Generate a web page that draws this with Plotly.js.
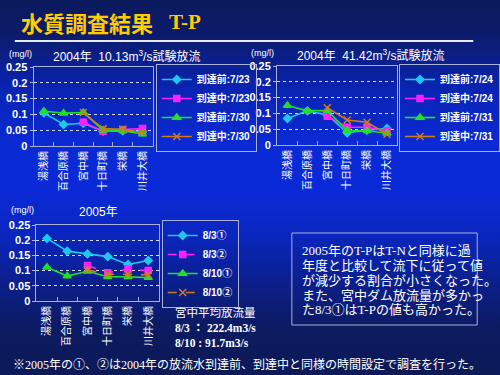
<!DOCTYPE html>
<html><head><meta charset="utf-8">
<script src="https://cdn.plot.ly/plotly-3.0.1.min.js"></script>
<style>
html,body{margin:0;padding:0;}
body{width:500px;height:375px;overflow:hidden;
background:linear-gradient(to bottom,#0b1a5c 0%,#0b1b6a 9%,#0a24b4 24%,#0a2ad4 38%,#0a2ad8 50%,#0a26c0 62%,#0b1f8a 76%,#0c1a60 88%,#0c1a58 100%);}
#chart{width:500px;height:375px;}
</style></head>
<body><div id="chart"></div>
<script>
const categories = ['湯浅橋','百合原橋','宮中橋','十日町橋','栄橋','川井大橋'];
const yTicks = [0, 0.05, 0.1, 0.15, 0.2, 0.25];
const yTickLabels = ['0','0.05','0.1','0.15','0.2','0.25'];

// 2004 10.13m3/s
const names1 = ['到達前:7/23','到達中:7/23','到達前:7/30','到達中:7/30'];
const p1_mae723 = [0.105,0.068,0.072,0.047,0.048,0.045];
const p1_naka723 = [null,null,0.075,0.047,0.052,0.055];
const p1_mae730 = [0.110,0.104,0.106,0.050,0.048,0.038];
const p1_naka730 = [null,null,0.106,0.055,0.053,0.042];

// 2004 41.42m3/s
const names2 = ['到達前:7/24','到達中:7/24','到達前:7/31','到達中:7/31'];
const p2_mae724 = [0.084,0.108,0.095,0.039,0.047,0.052];
const p2_naka724 = [null,null,0.091,0.056,0.056,0.045];
const p2_mae731 = [0.125,0.108,0.109,0.046,0.045,0.037];
const p2_naka731 = [null,null,0.118,0.079,0.072,0.034];

// 2005
const names3 = ['8/3①','8/3②','8/10①','8/10②'];
const p3_a1 = [0.206,0.164,0.155,0.146,0.120,0.133];
const p3_a2 = [null,null,0.117,0.093,0.105,0.100];
const p3_b1 = [0.111,0.082,0.098,0.080,0.080,0.077];
const p3_b2 = [null,null,0.102,0.088,0.088,0.086];

const cCyan='#1ec8f0', cPink='#ff20ff', cGreen='#22e022', cOrange='#d07a1e';
const styles = [
  {color:cCyan, symbol:'diamond', size:6},
  {color:cPink, symbol:'square', size:6},
  {color:cGreen, symbol:'triangle-up', size:7},
  {color:cOrange, symbol:'x-thin-open', size:7}
];

function mk(names, series, xa, ya, leg, dashes){
  return series.map((s,i)=>({
    type:'scatter', mode:'lines+markers', x:categories, y:s, name:names[i],
    xaxis:xa, yaxis:ya, legend:leg,
    line:{color:styles[i].color, width:1.6, dash:dashes[i]},
    marker:{color:styles[i].color, symbol:styles[i].symbol, size:styles[i].size,
            line:{color:styles[i].color, width:1.5}},
    connectgaps:false, hoverinfo:'skip'
  }));
}

const data = [].concat(
  mk(names1,[p1_mae723,p1_naka723,p1_mae730,p1_naka730],'x','y','legend',['solid','solid','solid','solid']),
  mk(names2,[p2_mae724,p2_naka724,p2_mae731,p2_naka731],'x2','y2','legend2',['solid','solid','solid','solid']),
  mk(names3,[p3_a1,p3_a2,p3_b1,p3_b2],'x3','y3','legend3',['solid','dash','solid','dash'])
);

const fontJP = '"Noto Sans CJK JP", "DejaVu Sans", sans-serif';
const fontMix = '"Liberation Sans", "Noto Sans CJK JP", sans-serif';
const fontSerif = '"Liberation Serif", "Noto Sans CJK JP", serif';
const lineCol = '#a8b0d8';

function xax(dom, anchor){
  return {domain:dom, anchor:anchor, type:'category', tickangle:-90,
    tickfont:{color:'#ffffff', size:10, family:fontJP},
    showline:true, linecolor:lineCol, linewidth:1, mirror:true,
    ticks:'inside', ticklen:4, tickcolor:lineCol, tickson:'boundaries',
    showgrid:false, zeroline:false, fixedrange:true};
}
function yax(dom, anchor){
  return {domain:dom, anchor:anchor, range:[0,0.25], tickvals:yTicks, ticktext:yTickLabels,
    tickfont:{color:'#ffffff', size:11, family:'"Liberation Sans", Arial, sans-serif', weight:'bold'},
    showline:true, linecolor:lineCol, linewidth:1, mirror:true,
    ticks:'outside', ticklen:3, tickcolor:lineCol,
    showgrid:true, gridcolor:'#d8dcf0', griddash:'dot', gridwidth:1,
    zeroline:false, fixedrange:true};
}
function legendCfg(x, y){
  return {x:x, y:y, xanchor:'left', yanchor:'top',
    bgcolor:'rgba(0,0,0,0)', bordercolor:lineCol, borderwidth:1,
    font:{color:'#ffffff', size:10, family:fontMix, weight:'bold'}, itemwidth:30, tracegroupgap:0};
}

function ann(text, xpx, ypx, size, opts){
  return Object.assign({text:text, x:xpx/500, y:1-ypx/375, xref:'paper', yref:'paper',
    showarrow:false, xanchor:'left', yanchor:'middle',
    font:{color:'#ffffff', size:size, family:fontJP}}, opts||{});
}
const serifB = (s)=>({color:'#ffffff', size:s, family:fontSerif, weight:'bold'});
const serifN = (s)=>({color:'#ffffff', size:s, family:fontSerif});

const annotations = [
  ann('水質調査結果', 19, 22, 22, {font:{color:'#ffcc00', size:22, family:fontJP, weight:'bold'}}),
  ann('T-P', 169, 22, 21, {font:{color:'#ffcc00', size:21, family:fontSerif, weight:'bold'}}),
  ann('(mg/l)', 7, 54, 9, {font:{color:'#ffffff', size:9, family:fontMix}}),
  ann('(mg/l)', 253, 53, 9, {font:{color:'#ffffff', size:9, family:fontMix}}),
  ann('(mg/l)', 9, 210, 9, {font:{color:'#ffffff', size:9, family:fontMix}}),
  ann('2004年  10.13m<sup>3</sup>/s試験放流', 128, 56, 12, {xanchor:'center', font:{color:'#ffffff', size:12, family:fontMix}}),
  ann('2004年  41.42m<sup>3</sup>/s試験放流', 376, 55, 12, {xanchor:'center', font:{color:'#ffffff', size:12, family:fontMix}}),
  ann('2005年', 100, 212, 12, {xanchor:'center', font:{color:'#ffffff', size:12, family:fontMix}}),
  ann('宮中平均放流量', 175, 312, 11.5),
  ann('8/3 ： 222.4m3/s', 175, 328, 11, {font:serifB(11.5)}),
  ann('8/10 : 91.7m3/s', 175, 343, 11, {font:serifB(11.5)}),
  ann('2005年のT-PはT-Nと同様に過', 304, 250, 13, {font:serifN(13)}),
  ann('年度と比較して流下に従って値', 304, 265, 13, {font:serifN(13)}),
  ann('が減少する割合が小さくなった。', 304, 280, 13, {font:serifN(13)}),
  ann('また、宮中ダム放流量が多かっ', 304, 295, 13, {font:serifN(13)}),
  ann('た8/3①はT-Pの値も高かった。', 304, 309, 13, {font:serifN(13)}),
  ann('※2005年の①、②は2004年の放流水到達前、到達中と同様の時間設定で調査を行った。', 11, 364, 12, {font:serifN(12)})
];

const shapes = [
  {type:'line', xref:'paper', yref:'paper', x0:15/500, x1:480/500, y0:1-41/375, y1:1-41/375,
   line:{color:'#e8e8f0', width:2}},
  {type:'rect', xref:'paper', yref:'paper', x0:296/500, x1:484/500, y0:1-233/375, y1:1-325/375,
   line:{color:lineCol, width:1}, fillcolor:'rgba(0,0,0,0)'}
];

const layout = {
  width:500, height:375, margin:{l:0,r:0,t:0,b:0},
  paper_bgcolor:'rgba(0,0,0,0)', plot_bgcolor:'rgba(0,0,0,0)',
  font:{family:fontJP, color:'#ffffff'},
  showlegend:true,
  xaxis: xax([34/500,155/500],'y'),
  yaxis: yax([1-146/375,1-67/375],'x'),
  xaxis2: xax([281/500,403/500],'y2'),
  yaxis2: yax([1-145/375,1-66/375],'x2'),
  xaxis3: xax([37/500,161/500],'y3'),
  yaxis3: yax([1-301/375,1-225/375],'x3'),
  legend: legendCfg(158/500, 1-64/375),
  legend2: legendCfg(405/500, 1-64/375),
  legend3: legendCfg(164/500, 1-220/375),
  annotations:annotations, shapes:shapes
};

Plotly.newPlot('chart', data, layout, {staticPlot:true, displayModeBar:false});
</script></body></html>
